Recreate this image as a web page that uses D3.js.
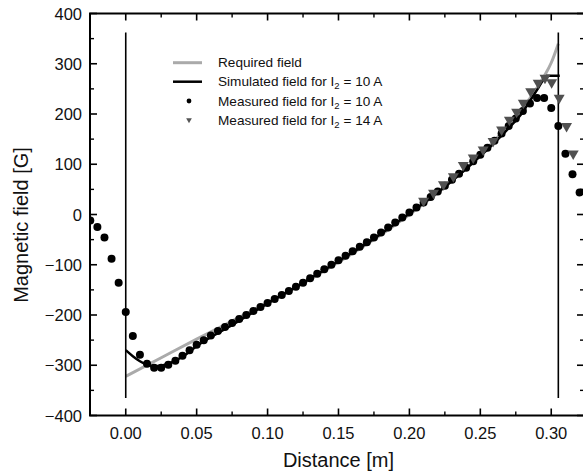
<!DOCTYPE html>
<html><head><meta charset="utf-8">
<script src="https://cdn.jsdelivr.net/npm/d3@7"></script>
<style>html,body{margin:0;padding:0;background:#fff;} svg{display:block;}</style>
</head><body>
<svg id="chart" width="583" height="474"></svg>
<script>
// ---- data ----
const xTicks = [0, 0.05, 0.10, 0.15, 0.20, 0.25, 0.30];
const yTicks = [-400, -300, -200, -100, 0, 100, 200, 300, 400];
const xLabel = "Distance [m]";
const yLabel = "Magnetic field [G]";

const requiredX = [0, 0.025, 0.05, 0.075, 0.1, 0.125, 0.15, 0.175, 0.2, 0.225, 0.25, 0.27, 0.28, 0.29, 0.295, 0.3, 0.305];
const requiredY = [-322, -285, -248, -212, -176, -137, -95, -50, 0, 55, 118, 178, 212, 252, 275, 302, 340];

const simX = [0, 0.005, 0.01, 0.015, 0.02, 0.025, 0.03, 0.04, 0.05, 0.075, 0.1, 0.125, 0.15, 0.175, 0.2, 0.225, 0.25, 0.27, 0.28, 0.285, 0.29, 0.294, 0.297, 0.306];
const simY = [-270, -282, -292, -299, -302, -301, -297, -283, -262, -220, -177, -136, -93, -48, 2, 55, 116, 172, 204, 226, 248, 266, 276, 276];

const meas10X = [-0.025, -0.02, -0.015, -0.01, -0.005, 0, 0.005, 0.01, 0.015, 0.02, 0.025, 0.03, 0.035, 0.04, 0.045, 0.05, 0.055, 0.06, 0.065, 0.07, 0.075, 0.08, 0.085, 0.09, 0.095, 0.1, 0.105, 0.11, 0.115, 0.12, 0.125, 0.13, 0.135, 0.14, 0.145, 0.15, 0.155, 0.16, 0.165, 0.17, 0.175, 0.18, 0.185, 0.19, 0.195, 0.2, 0.205, 0.21, 0.215, 0.22, 0.225, 0.23, 0.235, 0.24, 0.245, 0.25, 0.255, 0.26, 0.265, 0.27, 0.275, 0.28, 0.285, 0.29, 0.295, 0.3, 0.305, 0.31, 0.315, 0.32];
const meas10Y = [-12, -25, -46, -88, -136, -194, -242, -279, -297, -305, -305, -299, -291, -281, -270, -259, -250, -241, -232, -224, -216, -208, -200, -192, -184, -176, -168, -160, -152, -144, -136, -127, -118, -109, -100, -91, -82, -73, -64, -55, -46, -36, -26, -16, -6, 4, 14, 24, 35, 46, 57, 69, 81, 93, 106, 119, 133, 147, 161, 176, 191, 206, 221, 232, 232, 212, 176, 121, 80, 44];

const meas14X = [0.21, 0.217, 0.224, 0.231, 0.238, 0.245, 0.252, 0.259, 0.265, 0.2705, 0.2756, 0.2803, 0.2855, 0.2908, 0.2956, 0.3003, 0.3056, 0.3108, 0.3155];
const meas14Y = [27, 43, 60, 76, 98, 113, 129, 146, 169, 188, 204, 222, 245, 262, 272, 263, 232, 176, 121];

const markerLinesX = [0, 0.305];
const markerLinesY = [-365, 362];

const legendLabels = [
  ["Required field", null, null],
  ["Simulated field for I", "2", " = 10 A"],
  ["Measured field for I", "2", " = 10 A"],
  ["Measured field for I", "2", " = 14 A"]
];

// ---- drawing ----
const svg = d3.select("#chart");
const FONT = "'Liberation Sans', Arial, Helvetica, sans-serif";
const L = 90, R = 584, T = 13.5, B = 415.5;
const x = d3.scaleLinear().domain([-0.0252, 0.3231]).range([L, R]);
const y = d3.scaleLinear().domain([-400, 400]).range([B, T]);

svg.append("defs").append("clipPath").attr("id", "clip")
  .append("rect").attr("x", L).attr("y", T).attr("width", R - L).attr("height", B - T);

const plot = svg.append("g").attr("clip-path", "url(#clip)");

const lineGen = d3.line().x(d => x(d[0])).y(d => y(d[1])).curve(d3.curveMonotoneX);

plot.append("path")
  .datum(requiredX.map((v, i) => [v, requiredY[i]]))
  .attr("d", lineGen).attr("fill", "none").attr("stroke", "#aaaaaa").attr("stroke-width", 3);

plot.append("path")
  .datum(simX.map((v, i) => [v, simY[i]]))
  .attr("d", lineGen).attr("fill", "none").attr("stroke", "#000").attr("stroke-width", 2.5);

markerLinesX.forEach(v => {
  plot.append("line")
    .attr("x1", x(v)).attr("x2", x(v))
    .attr("y1", y(markerLinesY[0])).attr("y2", y(markerLinesY[1]))
    .attr("stroke", "#000").attr("stroke-width", 1.6);
});

plot.selectAll("circle.m10")
  .data(meas10X.map((v, i) => [v, meas10Y[i]]))
  .enter().append("circle").attr("class", "m10")
  .attr("cx", d => x(d[0])).attr("cy", d => y(d[1])).attr("r", 4).attr("fill", "#000");

const tri = d3.symbol().type(d3.symbolTriangle).size(52);
plot.selectAll("path.m14")
  .data(meas14X.map((v, i) => [v, meas14Y[i]]))
  .enter().append("path").attr("class", "m14")
  .attr("d", tri)
  .attr("transform", d => `translate(${x(d[0])},${y(d[1])}) rotate(180)`)
  .attr("fill", "#505050");

// ---- axes ----
const axG = svg.append("g");
const majorLen = 7, minorLen = 4;
const xMinor = d3.range(-0.025, 0.3231, 0.025).filter(v => xTicks.every(t => Math.abs(t - v) > 1e-6));
const yMinor = d3.range(-350, 400, 100);

function xTickLines(yPos, dir) {
  xTicks.forEach(v => axG.append("line").attr("x1", x(v)).attr("x2", x(v)).attr("y1", yPos).attr("y2", yPos + dir * majorLen).attr("stroke", "#000").attr("stroke-width", 1.6));
  xMinor.forEach(v => axG.append("line").attr("x1", x(v)).attr("x2", x(v)).attr("y1", yPos).attr("y2", yPos + dir * minorLen).attr("stroke", "#000").attr("stroke-width", 1.4));
}
function yTickLines(xPos, dir) {
  yTicks.forEach(v => axG.append("line").attr("y1", y(v)).attr("y2", y(v)).attr("x1", xPos).attr("x2", xPos + dir * majorLen).attr("stroke", "#000").attr("stroke-width", 1.6));
  yMinor.forEach(v => axG.append("line").attr("y1", y(v)).attr("y2", y(v)).attr("x1", xPos).attr("x2", xPos + dir * minorLen).attr("stroke", "#000").attr("stroke-width", 1.4));
}
xTickLines(B, -1);
xTickLines(T, 1);
yTickLines(L, 1);
yTickLines(R, -1);

axG.append("rect").attr("x", L).attr("y", T).attr("width", R - L).attr("height", B - T)
  .attr("fill", "none").attr("stroke", "#000").attr("stroke-width", 2);

const fmtX = d3.format(".2f");
const fmtY = d3.format("d");
axG.selectAll("text.xt").data(xTicks).enter().append("text")
  .attr("x", d => x(d)).attr("y", 439).attr("text-anchor", "middle")
  .attr("font-family", FONT).attr("font-size", 16.5).attr("fill", "#111").text(d => fmtX(d));
axG.selectAll("text.yt").data(yTicks).enter().append("text")
  .attr("x", 82).attr("y", d => y(d) + 6).attr("text-anchor", "end")
  .attr("font-family", FONT).attr("font-size", 16.5).attr("fill", "#111").text(d => fmtY(d));

svg.append("text").attr("x", x(0.15)).attr("y", 467).attr("text-anchor", "middle")
  .attr("font-family", FONT).attr("font-size", 20).attr("fill", "#111").text(xLabel);
svg.append("text").attr("transform", "translate(28,225) rotate(-90)").attr("text-anchor", "middle")
  .attr("font-family", FONT).attr("font-size", 20).attr("fill", "#111").text(yLabel);

// ---- legend ----
const lg = svg.append("g");
const rowY = [62.7, 81.7, 101, 120];
lg.append("line").attr("x1", 173).attr("x2", 202).attr("y1", rowY[0]).attr("y2", rowY[0]).attr("stroke", "#aaaaaa").attr("stroke-width", 3);
lg.append("line").attr("x1", 173).attr("x2", 202).attr("y1", rowY[1]).attr("y2", rowY[1]).attr("stroke", "#000").attr("stroke-width", 2.5);
lg.append("circle").attr("cx", 189).attr("cy", rowY[2]).attr("r", 2.4).attr("fill", "#000");
lg.append("path").attr("d", d3.symbol().type(d3.symbolTriangle).size(14)())
  .attr("transform", `translate(189,${rowY[3]}) rotate(180)`).attr("fill", "#555");

legendLabels.forEach((lab, i) => {
  const t = lg.append("text").attr("x", 218).attr("y", rowY[i] + 4.5)
    .attr("font-family", FONT).attr("font-size", 13.6).attr("fill", "#111");
  t.append("tspan").text(lab[0]);
  if (lab[1]) {
    t.append("tspan").attr("font-size", 9.5).attr("dy", 3).text(lab[1]);
    t.append("tspan").attr("dy", -3).text(lab[2]);
  }
});
</script>
</body></html>
